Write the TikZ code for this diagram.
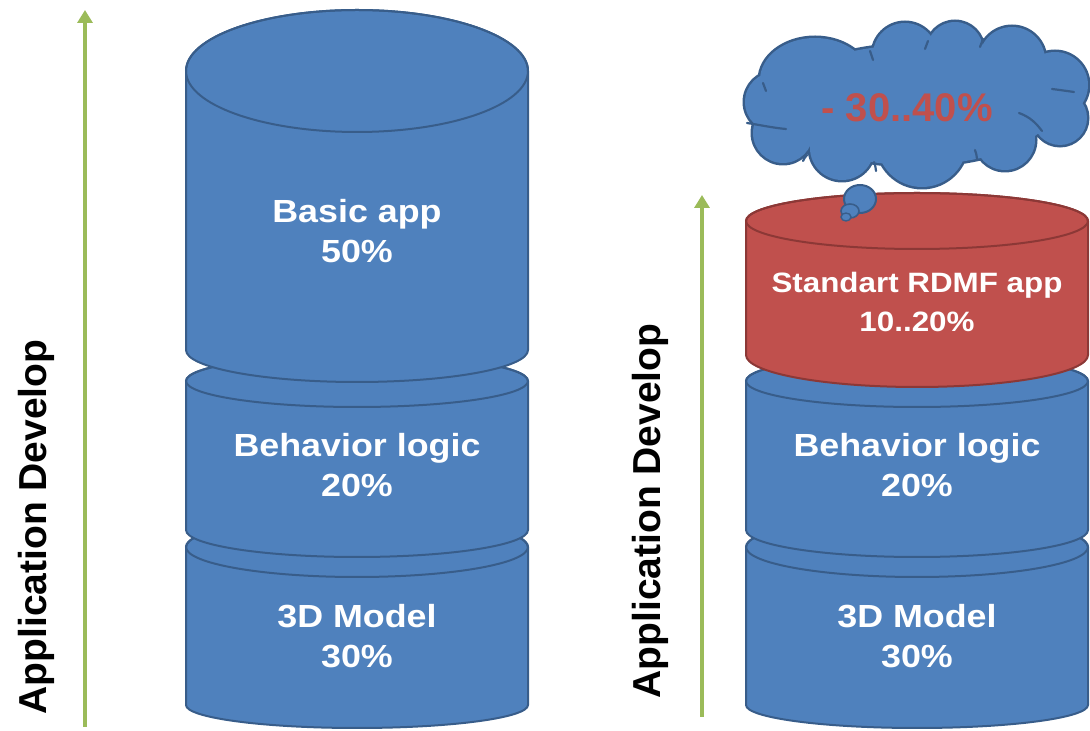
\documentclass[tikz,border=0pt]{standalone}
\usepackage{fontspec}
\setmainfont{Liberation Sans}
\newfontfamily\widesans{Liberation Sans}[FakeStretch=1.12]
\usetikzlibrary{arrows.meta}
\definecolor{canblue}{HTML}{4F81BD}
\definecolor{canblueline}{HTML}{385D8A}
\definecolor{canred}{HTML}{C0504D}
\definecolor{canredline}{HTML}{8C3836}
\definecolor{arrowgreen}{HTML}{9BBB59}
% can: #1 style, #2 centre x, #3 x radius, #4 top centre y, #5 top y radius,
%      #6 bottom side y, #7 bottom y radius
\newcommand\drawcan[7]{%
  \path[#1] ({#2-#3},#4) -- ({#2-#3},#6)
    arc[start angle=180, end angle=360, x radius=#3, y radius=#7]
    -- ({#2+#3},#4)
    arc[start angle=0, end angle=180, x radius=#3, y radius=#5] -- cycle;
  \path[#1, fill=none] (#2,#4) ellipse[x radius=#3, y radius=#5];
}
% the puffs of the thought cloud, as one path of ellipses
\newcommand\cloudpuffs{%
  (775,629) ellipse[x radius=30, y radius=30]
  (783,598) ellipse[x radius=30, y radius=30]
  (842,583) ellipse[x radius=32, y radius=32]
  (922,589) ellipse[x radius=45, y radius=45]
  (1005,591) ellipse[x radius=30, y radius=30]
  (1060,613) ellipse[x radius=27, y radius=27]
  (1055,646) ellipse[x radius=33, y radius=33]
  (1012,671) ellipse[x radius=33, y radius=33]
  (955,681) ellipse[x radius=28, y radius=28]
  (905,676) ellipse[x radius=32, y radius=32]
  (815,651) ellipse[x radius=55, y radius=42]
  (915,626) ellipse[x radius=140, y radius=60]
}
\tikzset{
  bluecan/.style={fill=canblue, draw=canblueline, line width=2pt},
  redcan/.style={fill=canred, draw=canredline, line width=2pt},
  canlabel/.style={text=white, align=center, font=\widesans\bfseries\fontsize{32}{40}\selectfont},
  redlabel/.style={text=white, align=center, font=\widesans\bfseries\fontsize{28}{39}\selectfont},
  sidelabel/.style={rotate=90, text=black, font=\bfseries\fontsize{39}{44}\selectfont},
  growth/.style={draw=arrowgreen, line width=4.5pt, -{Triangle[width=15pt,length=13pt]}},
  puff/.style={fill=canblue, draw=canblueline, line width=2pt},
  crease/.style={draw=canblueline, line width=2.2pt, line cap=round},
}
\begin{document}
\begin{tikzpicture}[x=1pt,y=1pt]
\useasboundingbox (0,0) rectangle (1090,731);

% left stack, drawn bottom to top
\drawcan{bluecan}{357}{171}{184}{30}{26}{23}
\drawcan{bluecan}{357}{171}{350}{26}{201}{27}
\drawcan{bluecan}{357}{171}{660}{61}{381}{32}
\node[canlabel] (basic) at (357,500) {Basic app\\50\%};
\node[canlabel] (behavL) at (357,266) {Behavior logic\\20\%};
\node[canlabel] (modelL) at (357,95) {3D Model\\30\%};

% right stack
\drawcan{bluecan}{917}{171}{184}{30}{26}{23}
\drawcan{bluecan}{917}{171}{350}{26}{201}{27}
\drawcan{redcan}{917}{171}{510}{28}{376}{32}
\node[redlabel] (rdmf) at (917,429) {Standart RDMF app\\10..20\%};
\node[canlabel] (behavR) at (917,266) {Behavior logic\\20\%};
\node[canlabel] (modelR) at (917,95) {3D Model\\30\%};

% thought cloud above the red can: outline first, then the fill hides the inner strokes
\path[draw=canblueline, line width=5pt] \cloudpuffs;
\path[fill=canblue] \cloudpuffs;
% creases where the puffs meet
\path[crease] (747,608) .. controls (760,606) and (774,603) .. (786,602);
\path[crease] (763,648) .. controls (764,645) and (765,643) .. (766,640);
\path[crease] (870,680) .. controls (871,677) and (872,674) .. (873,671);
\path[crease] (928,690) .. controls (927,687) and (926,685) .. (925,682);
\path[crease] (983,692) .. controls (982,689) and (981,687) .. (980,684);
\path[crease] (1052,642) .. controls (1060,641) and (1067,640) .. (1074,639);
\path[crease] (1042,600) .. controls (1036,608) and (1030,614) .. (1019,618);
\path[crease] (977,572) .. controls (977,575) and (976,578) .. (975,581);
\path[crease] (876,560) .. controls (876,563) and (875,566) .. (874,569);
\path[crease] (803,570) .. controls (804,572) and (805,574) .. (807,576);
% the trailing bubbles
\draw[puff] (860,532) ellipse[x radius=16, y radius=14];
\draw[puff, line width=1.6pt] (850,520) ellipse[x radius=9, y radius=7];
\draw[puff, line width=1.4pt] (846,514) ellipse[x radius=5, y radius=4];
\node[text=canred, font=\bfseries\fontsize{40}{44}\selectfont] (saving) at (907,623) {- 30..40\%};

% growth arrows with their captions
\coordinate (gl0) at (85,4);
\coordinate (gl1) at (85,721);
\coordinate (gr0) at (702,14);
\coordinate (gr1) at (702,536);
\draw[growth] (gl0) -- (gl1);
\draw[growth] (gr0) -- (gr1);
\node[sidelabel] (devL) at (36,204) {Application Develop};
\node[sidelabel] (devR) at (650,220) {Application Develop};
\end{tikzpicture}
\end{document}
